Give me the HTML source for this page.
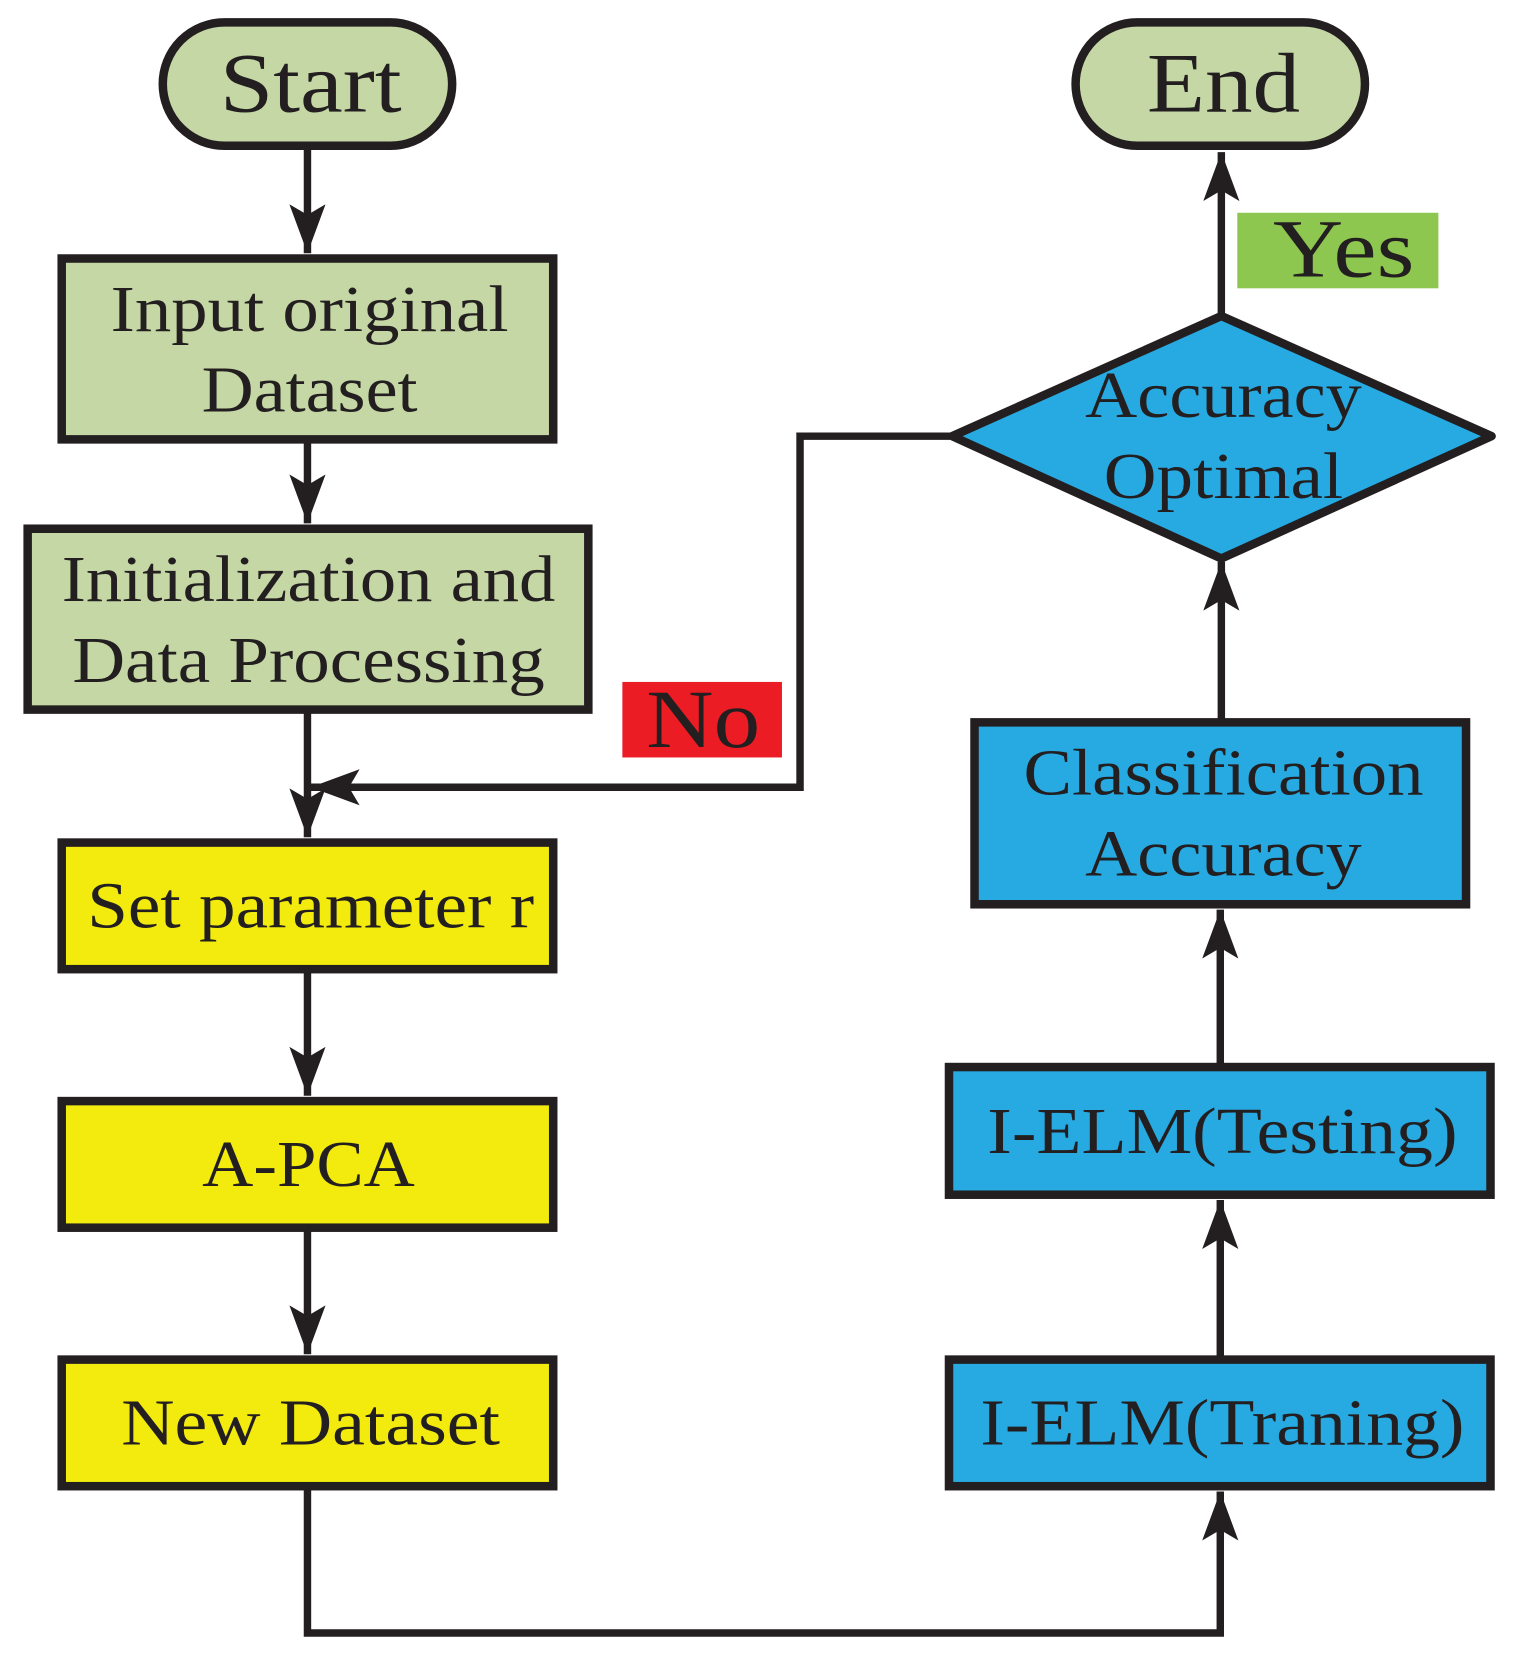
<!DOCTYPE html>
<html><head><meta charset="utf-8"><style>
html,body{margin:0;padding:0;background:#fff;}
svg{display:block;}
text{font-family:"Liberation Serif",serif;fill:#231f20;text-anchor:middle;}
</style></head><body>
<svg width="1532" height="1666" viewBox="0 0 1440 1566" preserveAspectRatio="none" xmlns="http://www.w3.org/2000/svg">
<defs>
<marker id="a" viewBox="0 0 46 34" refX="46" refY="17" markerWidth="46" markerHeight="34" markerUnits="userSpaceOnUse" orient="auto">
<path d="M0,0 L46,17 L0,34 L10,17 Z" fill="#231f20"/>
</marker>
</defs>
<g stroke="#231f20" stroke-width="7" fill="none">
<line x1="289" y1="140" x2="289" y2="238" marker-end="url(#a)"/>
<line x1="289" y1="415" x2="289" y2="492" marker-end="url(#a)"/>
<line x1="289" y1="669" x2="289" y2="787" marker-end="url(#a)"/>
<line x1="289" y1="913" x2="289" y2="1030" marker-end="url(#a)"/>
<line x1="289" y1="1156" x2="289" y2="1273" marker-end="url(#a)"/>
<polyline points="289,1399 289,1535 1147,1535 1147,1402" marker-end="url(#a)"/>
<line x1="1147" y1="1276" x2="1147" y2="1128" marker-end="url(#a)"/>
<line x1="1147" y1="1001" x2="1147" y2="855" marker-end="url(#a)"/>
<line x1="1148" y1="677" x2="1148" y2="528" marker-end="url(#a)"/>
<line x1="1148" y1="295" x2="1148" y2="143" marker-end="url(#a)"/>
<polyline points="893,410 752,410 752,740 292,740" marker-end="url(#a)"/>
</g>
<g stroke="#231f20" stroke-width="8">
<rect x="153" y="21" width="272" height="116" rx="58" fill="#c4d7a4"/>
<rect x="1011" y="21" width="272" height="116" rx="58" fill="#c4d7a4"/>
<rect x="58" y="243" width="462" height="170" fill="#c4d7a4"/>
<rect x="26" y="497" width="527" height="170" fill="#c4d7a4"/>
<rect x="58" y="792" width="462" height="119" fill="#f2eb0d"/>
<rect x="58" y="1035" width="462" height="119" fill="#f2eb0d"/>
<rect x="58" y="1278" width="462" height="119" fill="#f2eb0d"/>
<rect x="892" y="1278" width="509" height="119" fill="#27aae1"/>
<rect x="892" y="1003" width="509" height="120" fill="#27aae1"/>
<rect x="916" y="679" width="462" height="171" fill="#27aae1"/>
<polygon points="1148,297 1402,410 1148,525 895,410" fill="#27aae1" stroke-linejoin="round"/>
</g>
<rect x="1163" y="200" width="189" height="71" fill="#8dc74f"/>
<rect x="585" y="641" width="150" height="71" fill="#ec1c24"/>
<g lengthAdjust="spacingAndGlyphs">
<text x="292" y="105" font-size="80" textLength="171" lengthAdjust="spacingAndGlyphs">Start</text>
<text x="1150" y="105" font-size="80" textLength="144" lengthAdjust="spacingAndGlyphs">End</text>
<text x="1263" y="260" font-size="78" textLength="133" lengthAdjust="spacingAndGlyphs">Yes</text>
<text x="661" y="702" font-size="78" textLength="107" lengthAdjust="spacingAndGlyphs">No</text>
<text x="291" y="311" font-size="62" textLength="374" lengthAdjust="spacingAndGlyphs">Input original</text>
<text x="291" y="387" font-size="62" textLength="203" lengthAdjust="spacingAndGlyphs">Dataset</text>
<text x="290" y="565" font-size="62" textLength="464" lengthAdjust="spacingAndGlyphs">Initialization and</text>
<text x="290" y="641" font-size="62" textLength="444" lengthAdjust="spacingAndGlyphs">Data Processing</text>
<text x="292" y="872" font-size="62" textLength="420" lengthAdjust="spacingAndGlyphs">Set parameter r</text>
<text x="290" y="1115" font-size="62" textLength="200" lengthAdjust="spacingAndGlyphs">A-PCA</text>
<text x="292" y="1358" font-size="62" textLength="356" lengthAdjust="spacingAndGlyphs">New Dataset</text>
<text x="1149" y="1358" font-size="62" textLength="455" lengthAdjust="spacingAndGlyphs">I-ELM(Traning)</text>
<text x="1149" y="1084" font-size="62" textLength="442" lengthAdjust="spacingAndGlyphs">I-ELM(Testing)</text>
<text x="1150" y="747" font-size="62" textLength="376" lengthAdjust="spacingAndGlyphs">Classification</text>
<text x="1150" y="823" font-size="62" textLength="260" lengthAdjust="spacingAndGlyphs">Accuracy</text>
<text x="1150" y="392" font-size="62" textLength="260" lengthAdjust="spacingAndGlyphs">Accuracy</text>
<text x="1150" y="468" font-size="62" textLength="225" lengthAdjust="spacingAndGlyphs">Optimal</text>
</g>
</svg>
</body></html>
